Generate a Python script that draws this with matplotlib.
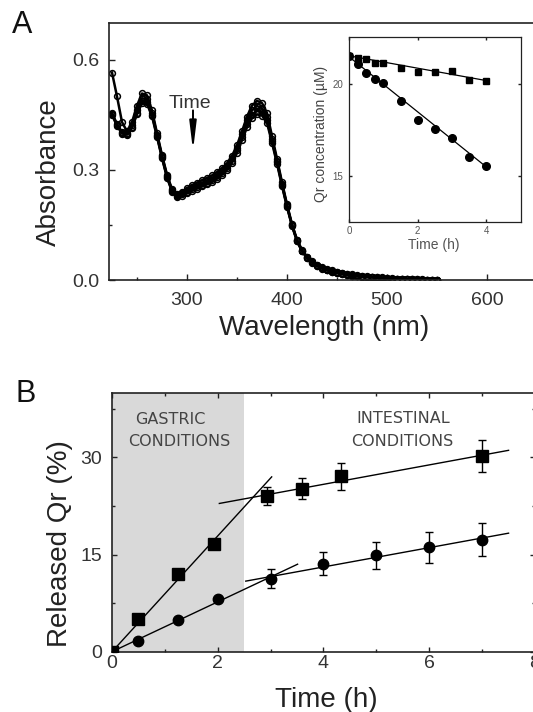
import matplotlib
matplotlib.use('Agg')
import matplotlib.pyplot as plt
import numpy as np
from matplotlib.ticker import MultipleLocator

plt.rcParams['font.family'] = ['Liberation Sans', 'DejaVu Sans']

# ---- panel A: UV-vis spectra (5 nm steps, 225-550 nm) ----
wavelength = np.arange(225, 551, 5)
abs_t0 = [.565, .50, .43, .405, .43, .475, .508, .503, .462, .400,
          .340, .287, .247, .233, .240, .250, .258, .265, .272, .278,
          .285, .294, .305, .318, .338, .367, .405, .445, .475, .488,
          .482, .455, .392, .330, .266, .206, .152, .110, .082, .064,
          .051, .042, .035, .030, .026, .023, .020, .017, .015, .013,
          .011, .010, .009, .008, .007, .006, .005, .004, .004, .003,
          .003, .002, .002, .001, .001, .001]
abs_t1 = [.455, .425, .403, .400, .422, .462, .495, .493, .455, .396,
          .337, .284, .245, .231, .236, .245, .252, .259, .265, .271,
          .278, .287, .298, .311, .331, .360, .397, .435, .462, .474,
          .468, .443, .384, .325, .262, .203, .150, .108, .080, .062,
          .049, .040, .033, .028, .024, .021, .018, .015, .013, .011,
          .010, .009, .008, .007, .006, .005, .004, .004, .003, .003,
          .002, .002, .001, .001, .001, .000]
abs_t2 = [.452, .422, .401, .398, .418, .456, .488, .486, .450, .393,
          .334, .281, .243, .229, .233, .240, .247, .253, .259, .265,
          .272, .281, .292, .305, .325, .353, .389, .425, .450, .461,
          .457, .435, .379, .321, .259, .201, .149, .107, .079, .061,
          .048, .039, .032, .027, .023, .020, .017, .014, .012, .010,
          .009, .008, .007, .006, .005, .004, .004, .003, .003, .002,
          .002, .001, .001, .001, .000, .000]
abs_t3 = [.450, .420, .399, .396, .415, .451, .482, .480, .446, .390,
          .332, .279, .241, .227, .230, .236, .243, .249, .255, .261,
          .267, .276, .287, .300, .319, .346, .381, .416, .441, .451,
          .448, .428, .374, .317, .256, .199, .147, .106, .078, .060,
          .047, .038, .031, .026, .022, .019, .016, .013, .011, .010,
          .009, .008, .007, .006, .005, .004, .003, .003, .002, .002,
          .001, .001, .001, .000, .000, .000]
spectra = [abs_t0, abs_t1, abs_t2, abs_t3]

# inset: Qr concentration vs time
inset_t = [0, 0.25, 0.5, 0.75, 1, 1.5, 2, 2.5, 3, 3.5, 4]
inset_sq = [21.5, 21.4, 21.35, 21.1, 21.1, 20.85, 20.65, 20.65, 20.7, 20.2, 20.15]
inset_ci = [21.5, 21.05, 20.55, 20.25, 20.05, 19.05, 18.05, 17.55, 17.05, 16.05, 15.55]
inset_fit_sq = (21.5, -0.335)   # intercept, slope
inset_fit_ci = (21.45, -1.49)

# ---- panel B: release ----
t_sq = [0, 0.5, 1.24, 1.92, 2.94, 3.6, 4.34, 7.0]
rel_sq = [0, 5.1, 12.0, 16.7, 24.1, 25.2, 27.1, 30.2]
err_sq = [0, 0, 0, 0, 1.4, 1.6, 2.1, 2.5]
t_ci = [0, 0.5, 1.24, 2.0, 3.0, 4.0, 5.0, 6.0, 7.0]
rel_ci = [0, 1.6, 4.9, 8.1, 11.3, 13.6, 14.9, 16.1, 17.3]
err_ci = [0, 0, 0, 0, 1.4, 1.8, 2.1, 2.4, 2.5]
# linear fits: (x start, x end, slope, intercept)
fits = [(0, 3.02, 8.94, 0.0), (2.03, 7.5, 1.5, 19.85),
        (0, 3.51, 3.85, 0.0), (2.53, 7.5, 1.49, 7.13)]
gastric_end = 2.5

W, H = 533, 712
fig = plt.figure(figsize=(W / 100, H / 100), dpi=100)

def frac(left, top, right, bottom):
    return [left / W, 1 - bottom / H, (right - left) / W, (bottom - top) / H]

def style(ax, major, minor, pad_x, pad_y, fs=13.5):
    for s in ax.spines.values():
        s.set_linewidth(1.2)
        s.set_color('#222222')
    ax.tick_params(which='both', direction='in', colors='#222222', width=1.0,
                   labelcolor='#333333', labelsize=fs)
    ax.tick_params(which='major', length=major)
    ax.tick_params(which='minor', length=minor)
    ax.tick_params(axis='x', pad=pad_x)
    ax.tick_params(axis='y', pad=pad_y)

# ---------- A ----------
axA = fig.add_axes(frac(109, 23, 537, 280))
for a in spectra:
    axA.plot(wavelength, a, '-o', color='black', lw=1.8, ms=4.2, mfc='none', mew=1.1)
axA.set_xlim(222, 650)
axA.set_ylim(0, 0.7)
axA.xaxis.set_major_locator(MultipleLocator(100))
axA.xaxis.set_minor_locator(MultipleLocator(50))
axA.set_yticks([0, 0.3, 0.6])
axA.set_yticklabels(['0.0', '0.3', '0.6'])
axA.yaxis.set_minor_locator(MultipleLocator(0.15))
style(axA, 4.5, 2.5, 8.5, 7, fs=14)
axA.set_xlabel('Wavelength (nm)', fontsize=20, color='#222222', va='center')
axA.xaxis.set_label_coords(0.502, -0.187)
axA.set_ylabel('Absorbance', fontsize=20, color='#222222', va='center')
axA.yaxis.set_label_coords(-0.141, 0.42)
axA.text(302.5, 0.482, 'Time', fontsize=14, color='#333333', ha='center', va='center')
axA.annotate('', xy=(306, 0.352), xytext=(306, 0.462),
             arrowprops=dict(arrowstyle='-|>,head_length=1.4,head_width=0.17',
                             color='black', lw=1.4, mutation_scale=12, shrinkA=0, shrinkB=0))

# inset
axI = fig.add_axes(frac(349, 37.3, 520.7, 222.3))
axI.set_facecolor('white')
ti = np.array([0, 4])
axI.plot(ti, inset_fit_sq[0] + inset_fit_sq[1] * ti, color='black', lw=0.9)
axI.plot(ti, inset_fit_ci[0] + inset_fit_ci[1] * ti, color='black', lw=0.9)
axI.plot(inset_t, inset_sq, 's', color='black', ms=5)
axI.plot(inset_t, inset_ci, 'o', color='black', ms=5.5)
axI.set_xlim(0, 5)
axI.set_ylim(12.5, 22.5)
axI.set_xticks([0, 2, 4])
axI.set_yticks([15, 20])
style(axI, 2.5, 1.5, 3, 4, fs=7)
axI.tick_params(top=True, right=True, labelcolor='#555555')
for s in axI.spines.values():
    s.set_linewidth(0.9)
axI.set_xlabel('Time (h)', fontsize=10, color='#555555', va='center')
axI.xaxis.set_label_coords(0.493, -0.123)
axI.set_ylabel('Qr concentration (\u00b5M)', fontsize=10, color='#444444', va='center')
axI.yaxis.set_label_coords(-0.163, 0.477)

fig.text(22 / W, 1 - 25 / H, 'A', fontsize=22, ha='center', va='center', color='#111111')

# ---------- B ----------
axB = fig.add_axes(frac(112, 392.7, 535, 651.7))
axB.axvspan(0, gastric_end, color='#d9d9d9', lw=0, zorder=0)
for x0, x1, m, b in fits:
    xs = np.array([x0, x1])
    axB.plot(xs, m * xs + b, color='black', lw=1.0, zorder=2)
axB.errorbar(t_sq, rel_sq, yerr=err_sq, fmt='s', color='black', ms=8,
             elinewidth=1.0, capsize=3, capthick=1.0, zorder=3)
axB.errorbar(t_ci, rel_ci, yerr=err_ci, fmt='o', color='black', ms=7.5,
             elinewidth=1.0, capsize=3, capthick=1.0, zorder=3)
axB.set_xlim(0, 8)
axB.set_ylim(0, 40)
axB.xaxis.set_major_locator(MultipleLocator(2))
axB.xaxis.set_minor_locator(MultipleLocator(1))
axB.set_yticks([0, 15, 30])
axB.yaxis.set_minor_locator(MultipleLocator(7.5))
style(axB, 3.5, 2.2, 2.5, 7, fs=14)
axB.tick_params(which='both', top=True, right=True)
axB.set_xlabel('Time (h)', fontsize=20, color='#222222', va='center')
axB.xaxis.set_label_coords(0.5076, -0.186)
axB.set_ylabel('Released Qr (%)', fontsize=20, color='#222222', va='center')
axB.yaxis.set_label_coords(-0.123, 0.418)

txt = dict(fontsize=11.5, color='#444444', ha='center', va='center', family='DejaVu Sans')
axB.text(1.10, 35.9, 'GASTRIC', **txt)
axB.text(1.28, 32.5, 'CONDITIONS', **txt)
axB.text(5.5, 36.0, 'INTESTINAL', **txt)
axB.text(5.49, 32.5, 'CONDITIONS', **txt)

fig.text(26 / W, 1 - 394 / H, 'B', fontsize=22, ha='center', va='center', color='#111111')

fig.savefig('out.png', dpi=100)
